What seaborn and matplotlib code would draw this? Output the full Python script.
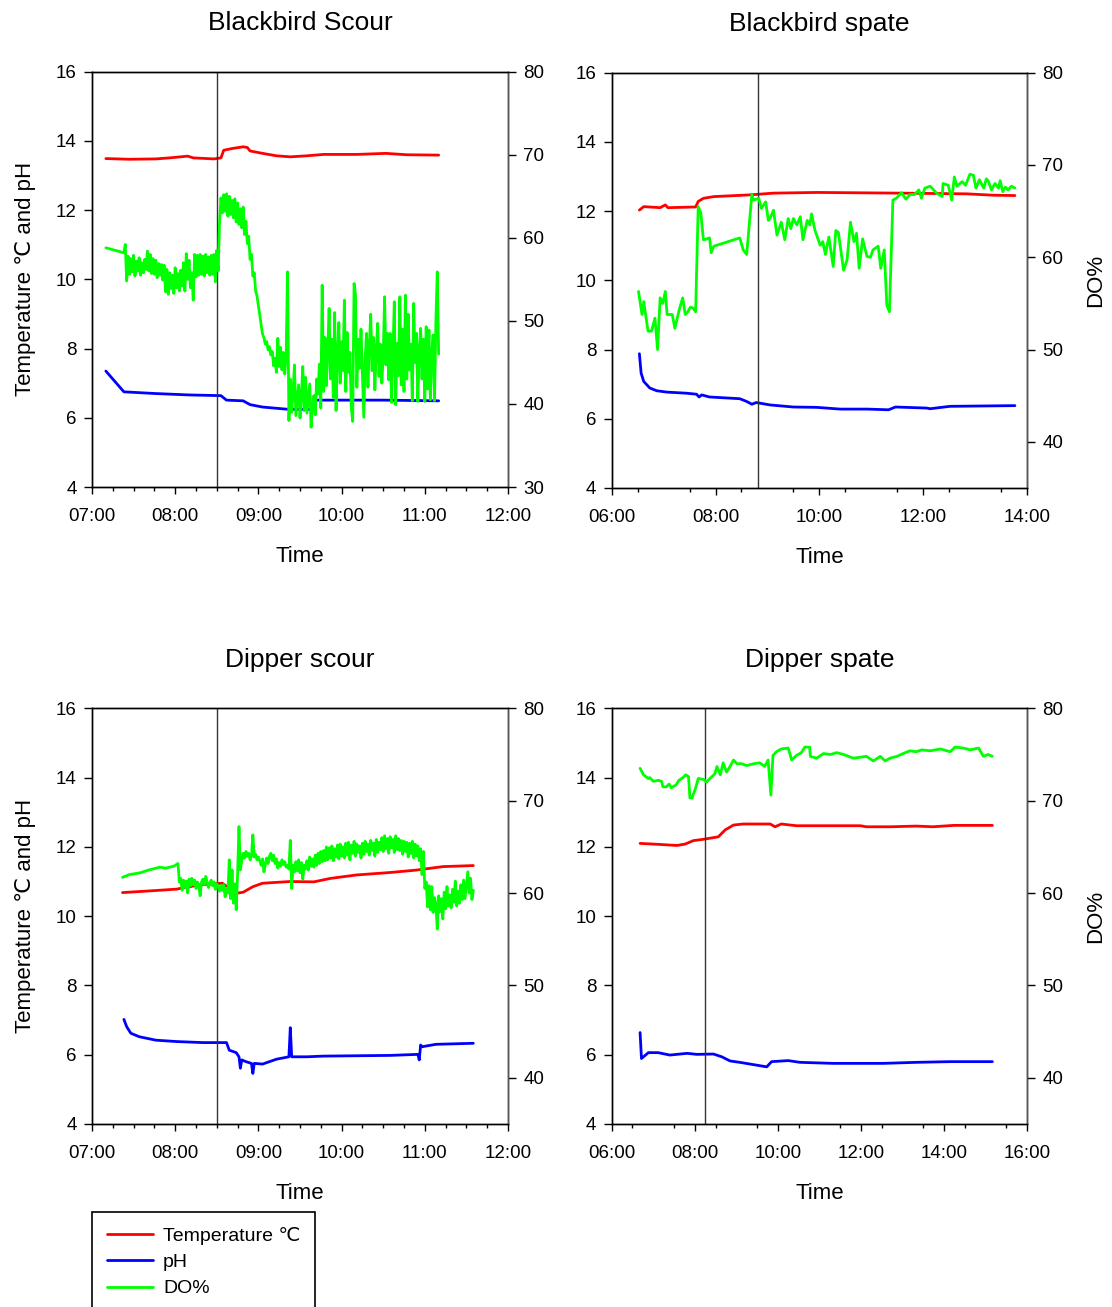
import numpy as np
import pandas as pd
import matplotlib
matplotlib.use("Agg")
import matplotlib.pyplot as plt
import matplotlib.dates as mdates
import seaborn as sns

# ---------------- data ----------------
panel_titles = ["Blackbird Scour", "Blackbird spate", "Dipper scour", "Dipper spate"]
event_times = ["08:30", "08:49", "08:30", "08:15"]
x_ranges = [("07:00", "12:00"), ("06:00", "14:00"), ("07:00", "12:00"), ("06:00", "16:00")]
major_hours = [1, 2, 1, 2]
minor_minutes = [[15, 30, 45], [30], [15, 30, 45], [30]]
do_ranges = [(30, 80), (35, 80), (35, 80), (35, 80)]
left_ticks = [4, 6, 8, 10, 12, 14, 16]
do_ticks_list = [[30, 40, 50, 60, 70, 80], [40, 50, 60, 70, 80],
                 [40, 50, 60, 70, 80], [40, 50, 60, 70, 80]]

# --- Blackbird Scour ---
bs_temp_t = ["07:10", "07:27", "07:46", "07:56", "08:09", "08:13", "08:28", "08:33", "08:35", "08:41",
             "08:49", "08:52", "08:54", "09:03", "09:13", "09:23", "09:35", "09:47", "10:11", "10:32",
             "10:47", "11:10"]
bs_temp_v = [13.49, 13.47, 13.48, 13.51, 13.56, 13.51, 13.48, 13.51, 13.73, 13.78,
             13.83, 13.81, 13.71, 13.64, 13.57, 13.54, 13.57, 13.61, 13.61, 13.64,
             13.60, 13.59]
bs_ph_t = ["07:10", "07:23", "07:46", "08:10", "08:33", "08:37", "08:49", "08:54", "09:03", "09:20",
           "09:39", "09:40", "10:30", "11:10"]
bs_ph_v = [7.35, 6.75, 6.70, 6.66, 6.64, 6.51, 6.49, 6.38, 6.31, 6.25,
           6.24, 6.51, 6.51, 6.49]
bs_do_first_t = ["07:10"]
bs_do_first_v = [58.8]
bs_do_start = "07:23"   # one reading per minute from here
bs_do_v = [58.2,
           59.2, 54.8, 57.8, 55.6, 57.5, 55.9, 57.9, 55.4, 57.2, 56.0,
           57.6, 55.5, 57.0, 55.8, 57.4, 56.2, 58.4, 56.0, 58.0, 55.7,
           57.5, 55.6, 57.3, 55.2, 56.9, 55.5, 56.8, 54.9, 56.7, 53.5,
           56.2, 53.2, 55.8, 53.9, 55.5, 53.3, 56.4, 54.0, 55.7, 53.6,
           56.1, 54.2, 57.0, 53.6, 58.1, 55.0, 57.3, 54.0, 55.8, 52.5,
           58.0, 55.3, 57.9, 55.5, 58.0, 55.6, 57.8, 55.4, 58.0, 55.8,
           57.7, 55.5, 57.9, 55.6, 58.0, 54.7,
           58.5, 56.0, 62.0, 64.8, 63.0, 65.2, 63.2, 65.3, 62.6, 65.0,
           62.8, 64.5, 62.4, 64.7, 61.9, 64.2, 61.6, 63.5, 61.2, 63.7,
           60.4, 62.0, 59.3, 60.2, 57.4, 58.0, 55.4, 55.8, 53.6, 53.0,
           51.8, 50.7,
           49.5, 48.4, 48.0, 47.2, 47.5, 46.5, 46.9, 45.9, 46.3, 44.6,
           45.5, 43.8, 47.9, 44.5, 46.8, 44.1, 46.2, 43.6, 45.8, 55.9,
           38.0, 43.0, 39.0, 41.5, 44.7, 38.6, 40.5, 42.3, 38.3, 41.0,
           44.5, 39.2, 43.2, 38.9, 40.6, 42.4, 37.2, 39.8, 41.0, 38.7,
           43.0, 41.2, 44.8, 39.5, 54.3, 41.5, 48.0, 42.2, 46.5, 51.5,
           43.0, 47.8, 40.8, 51.0, 39.2, 46.0, 49.8, 42.5, 47.5, 44.0,
           52.5, 41.5, 48.6, 43.8, 46.2, 39.5, 37.9, 54.5, 53.2, 42.0,
           47.8, 44.3, 49.0, 43.5, 38.4, 45.5, 48.5, 42.0, 47.0, 50.8,
           44.0, 48.0, 41.7, 46.5, 49.7, 43.3, 47.2, 42.5, 45.8, 52.9,
           44.7, 48.5, 42.9, 48.5, 40.2, 46.0, 52.3, 39.9, 47.3, 43.4,
           52.9, 42.3, 49.0, 41.5, 53.1, 43.0, 50.8, 44.1, 47.2, 40.4,
           52.1, 45.0, 48.5, 40.3, 46.5, 49.1, 43.0, 47.8, 40.3, 49.3,
           41.8, 48.9, 40.5, 46.0, 48.3, 40.4, 50.0, 55.9, 46.0]

# --- Blackbird spate ---
bsp_temp_t = ["06:32", "06:37", "06:56", "07:02", "07:05", "07:37", "07:40", "07:46", "07:58", "08:40",
              "09:07", "09:57", "11:33", "12:50", "13:21", "13:46"]
bsp_temp_v = [12.03, 12.13, 12.10, 12.18, 12.10, 12.12, 12.28, 12.37, 12.42, 12.47,
              12.52, 12.54, 12.52, 12.50, 12.46, 12.45]
bsp_ph_t = ["06:32", "06:34", "06:37", "06:44", "06:52", "07:04", "07:26", "07:38", "07:41", "07:44",
            "07:53", "08:28", "08:36", "08:42", "08:47", "09:03", "09:30", "09:57", "10:24", "10:55",
            "11:20", "11:28", "12:04", "12:08", "12:31", "13:46"]
bsp_ph_v = [7.88, 7.32, 7.08, 6.89, 6.81, 6.77, 6.74, 6.71, 6.63, 6.69,
            6.63, 6.58, 6.50, 6.42, 6.47, 6.40, 6.34, 6.33, 6.28, 6.28,
            6.26, 6.34, 6.31, 6.29, 6.36, 6.38]
bsp_do_t = ["06:31", "06:35", "06:37", "06:42", "06:46", "06:50", "06:53", "06:56", "06:59", "07:02",
            "07:04", "07:10", "07:13", "07:18", "07:22", "07:25", "07:28", "07:31", "07:34", "07:37",
            "07:40", "07:43", "07:46", "07:50", "07:53", "07:55", "07:58", "08:28", "08:32", "08:36",
            "08:42", "08:44", "08:50", "08:53", "08:58", "09:01", "09:03", "09:07", "09:11", "09:16",
            "09:20", "09:24", "09:27", "09:30", "09:34", "09:38", "09:41", "09:46", "09:49", "09:51",
            "09:55", "10:01", "10:04", "10:07", "10:11", "10:16", "10:19", "10:22", "10:28", "10:32",
            "10:36", "10:40", "10:43", "10:46", "10:50", "10:55", "10:59", "11:02", "11:08", "11:11",
            "11:15", "11:18", "11:21", "11:25", "11:29", "11:35", "11:40", "11:45", "11:50", "11:55",
            "11:58", "12:02", "12:08", "12:16", "12:22", "12:23", "12:29", "12:33", "12:36", "12:39",
            "12:45", "12:49", "12:54", "12:58", "13:01", "13:05", "13:10", "13:13", "13:15", "13:19",
            "13:23", "13:27", "13:29", "13:32", "13:35", "13:38", "13:42", "13:46"]
bsp_do_v = [56.3, 53.8, 55.2, 52.0, 52.0, 53.4, 50.0, 55.6, 55.0, 56.3,
            53.8, 53.8, 52.3, 54.3, 55.6, 53.8, 54.1, 54.6, 54.5, 54.1,
            65.5, 64.8, 61.9, 62.0, 62.1, 60.5, 61.2, 62.1, 60.8, 60.3,
            66.8, 66.2, 66.4, 65.3, 66.0, 64.0, 64.2, 65.1, 62.4, 63.8,
            61.9, 64.2, 63.1, 64.2, 63.5, 64.4, 61.9, 64.0, 63.5, 64.7,
            62.9, 61.3, 61.7, 60.3, 62.2, 59.0, 62.9, 62.7, 58.6, 59.7,
            63.8, 61.7, 62.6, 58.8, 62.0, 60.1, 60.0, 60.8, 61.2, 58.8,
            60.8, 54.8, 54.1, 66.2, 66.4, 67.0, 66.3, 66.8, 66.8, 67.3,
            66.4, 67.5, 67.7, 66.9, 66.6, 68.0, 67.8, 66.2, 68.7, 67.7,
            68.2, 67.8, 69.0, 68.9, 67.5, 68.4, 67.5, 68.5, 68.3, 67.3,
            68.0, 67.5, 68.3, 67.1, 67.6, 67.3, 67.7, 67.5]

# --- Dipper scour ---
ds_temp_t = ["07:22", "07:46", "08:01", "08:17", "08:34", "08:44", "08:49", "08:56", "09:03", "09:23",
             "09:40", "09:52", "10:11", "10:35", "10:54", "11:13", "11:35"]
ds_temp_v = [10.68, 10.74, 10.78, 10.90, 10.95, 10.66, 10.69, 10.85, 10.95, 11.00,
             10.99, 11.09, 11.19, 11.26, 11.33, 11.43, 11.46]
ds_ph_t = ["07:23", "07:25", "07:28", "07:34", "07:46", "08:01", "08:20", "08:37", "08:39", "08:44",
           "08:46", "08:47", "08:48", "08:51", "08:55", "08:56", "08:57", "09:03", "09:13", "09:22",
           "09:23", "09:24", "09:35", "09:47", "10:11", "10:35", "10:55", "10:56", "10:57", "10:58",
           "11:08", "11:35"]
ds_ph_v = [7.02, 6.81, 6.62, 6.52, 6.42, 6.38, 6.35, 6.35, 6.13, 6.06,
           5.94, 5.61, 5.85, 5.80, 5.75, 5.46, 5.75, 5.73, 5.87, 5.94,
           6.78, 5.94, 5.94, 5.96, 5.97, 5.98, 6.01, 5.85, 6.28, 6.23,
           6.30, 6.33]
ds_do_first_t = ["07:22", "07:27", "07:35", "07:41", "07:49", "07:53", "07:59", "08:02"]
ds_do_first_v = [61.7, 62.0, 62.2, 62.5, 62.8, 62.7, 62.9, 63.2]
ds_do_start = "08:03"   # one reading per minute from here
ds_do_v = [61.2, 61.6, 60.3, 61.4, 60.6, 61.3, 60.0, 61.5, 60.8, 61.6,
           60.9, 61.4, 60.5, 61.2, 60.7, 59.7, 61.2, 61.5, 60.9, 61.8,
           61.2, 60.6, 61.1, 61.4, 60.8, 61.2, 60.4, 61.0, 60.7, 60.2,
           60.8, 60.3, 60.9, 59.6, 60.5, 60.0, 63.6, 59.4, 62.5, 58.9,
           61.0, 58.2, 62.1, 67.2, 62.5, 63.5, 64.3, 63.8, 64.5, 64.0,
           64.3, 63.6, 64.0, 66.3, 63.9, 64.2, 63.6, 63.9, 63.5, 63.0,
           63.7, 62.3, 63.1, 63.8, 63.2, 64.0, 64.3, 63.5, 64.1, 63.2,
           63.7, 62.7, 63.3, 62.9, 63.6, 63.1, 63.4, 62.8, 63.0, 62.6,
           65.7, 60.5, 63.0, 62.3, 63.4, 62.4, 63.6, 62.2, 63.3, 61.5,
           63.0, 62.6, 63.5, 62.5, 63.9, 62.9, 63.7, 62.8, 64.1, 63.0,
           64.3, 63.2, 64.5, 63.4, 64.6, 63.5, 65.0, 63.6, 64.9, 63.8,
           65.1, 63.5, 64.8, 63.9, 65.2, 63.7, 65.3, 64.0, 65.0, 63.8,
           65.4, 64.1, 65.5, 63.6, 65.2, 64.3, 65.6, 64.0, 65.3, 64.4,
           65.1, 63.8, 65.4, 64.2, 65.6, 64.5, 65.3, 64.1, 65.7, 64.6,
           65.4, 64.0, 65.8, 64.4, 65.5, 64.7, 66.0, 64.5, 66.2, 64.8,
           65.9, 64.3, 66.1, 64.9, 65.8, 64.4, 66.2, 64.7, 65.9, 64.6,
           65.7, 64.2, 65.6, 64.5, 65.5, 63.9, 65.4, 64.3, 65.6, 63.8,
           65.3, 64.0, 65.1, 63.5, 64.8, 62.0, 64.5, 60.5, 61.2, 58.5,
           60.8, 58.2, 60.7, 57.9, 59.5, 58.8, 56.1, 59.7, 58.0, 59.4,
           57.2, 60.1, 58.3, 60.7, 58.6, 59.8, 58.4, 60.4, 59.0, 61.3,
           58.6, 60.2, 58.9, 60.9, 59.3, 61.4, 59.4, 60.8, 62.3, 60.0,
           61.6, 59.3, 60.3]

# --- Dipper spate ---
dsp_temp_t = ["06:41", "07:10", "07:34", "07:46", "07:58", "08:13", "08:34", "08:44", "08:56", "09:10",
              "09:49", "09:56", "10:05", "10:27", "11:59", "12:08", "12:42", "13:20", "13:44", "14:14",
              "15:10"]
dsp_temp_v = [12.10, 12.07, 12.04, 12.08, 12.18, 12.22, 12.29, 12.49, 12.63, 12.66,
              12.66, 12.58, 12.66, 12.61, 12.61, 12.58, 12.58, 12.60, 12.58, 12.62,
              12.62]
dsp_ph_t = ["06:41", "06:43", "06:53", "07:07", "07:24", "07:49", "08:03", "08:27", "08:39", "08:51",
            "09:05", "09:29", "09:44", "09:51", "10:15", "10:32", "11:20", "12:32", "13:20", "14:09",
            "15:10"]
dsp_ph_v = [6.64, 5.89, 6.06, 6.06, 5.99, 6.04, 6.01, 6.02, 5.94, 5.82,
            5.78, 5.70, 5.65, 5.80, 5.83, 5.78, 5.75, 5.75, 5.78, 5.80,
            5.80]
dsp_do_t = ["06:41", "06:46", "06:53", "06:55", "07:00", "07:07", "07:12", "07:14", "07:19", "07:23",
            "07:26", "07:33", "07:37", "07:43", "07:47", "07:51", "07:53", "07:56", "08:01", "08:05",
            "08:13", "08:17", "08:22", "08:29", "08:32", "08:37", "08:41", "08:46", "08:51", "08:56",
            "09:01", "09:08", "09:15", "09:25", "09:34", "09:41", "09:46", "09:50", "09:53", "09:58",
            "10:05", "10:15", "10:20", "10:27", "10:34", "10:39", "10:46", "10:47", "10:56", "11:06",
            "11:16", "11:25", "11:35", "11:49", "11:59", "12:08", "12:18", "12:28", "12:35", "12:42",
            "12:52", "13:01", "13:11", "13:20", "13:28", "13:40", "13:55", "14:09", "14:16", "14:28",
            "14:38", "14:50", "14:57", "15:04", "15:10"]
dsp_do_v = [73.5, 72.8, 72.4, 72.5, 72.1, 72.2, 72.1, 71.5, 71.5, 71.8,
            71.4, 71.7, 72.2, 72.5, 72.8, 72.6, 70.3, 70.3, 71.3, 72.4,
            72.3, 72.0, 72.4, 72.9, 73.7, 72.8, 74.1, 73.1, 73.7, 74.4,
            74.0, 74.0, 73.8, 74.0, 74.1, 73.7, 74.4, 70.6, 74.9, 75.3,
            75.6, 75.7, 74.4, 74.9, 75.2, 75.8, 75.8, 74.8, 74.6, 75.1,
            75.0, 75.2, 75.0, 74.6, 74.7, 74.8, 74.3, 74.8, 74.3, 74.6,
            74.8, 75.1, 75.4, 75.3, 75.5, 75.4, 75.6, 75.3, 75.8, 75.7,
            75.5, 75.7, 74.8, 75.0, 74.8]

series_names = ["Temperature \u2103", "pH", "DO%"]
series_colors = ["#ff0000", "#0000ff", "#00ff00"]

# ---------------- helpers ----------------
DAY = "2000-01-01 "


def tt(lst):
    return pd.to_datetime([DAY + s for s in lst])


def per_minute(start, vals):
    return pd.date_range(DAY + start, periods=len(vals), freq="min")


panels = [
    dict(temp=(tt(bs_temp_t), bs_temp_v), ph=(tt(bs_ph_t), bs_ph_v),
         do=(tt(bs_do_first_t).append(per_minute(bs_do_start, bs_do_v)), bs_do_first_v + bs_do_v)),
    dict(temp=(tt(bsp_temp_t), bsp_temp_v), ph=(tt(bsp_ph_t), bsp_ph_v),
         do=(tt(bsp_do_t), bsp_do_v)),
    dict(temp=(tt(ds_temp_t), ds_temp_v), ph=(tt(ds_ph_t), ds_ph_v),
         do=(tt(ds_do_first_t).append(per_minute(ds_do_start, ds_do_v)), ds_do_first_v + ds_do_v)),
    dict(temp=(tt(dsp_temp_t), dsp_temp_v), ph=(tt(dsp_ph_t), dsp_ph_v),
         do=(tt(dsp_do_t), dsp_do_v)),
]

# ---------------- style ----------------
sns.set_theme(style="white")
plt.rcParams["font.family"] = ["Liberation Sans", "DejaVu Sans"]
plt.rcParams["axes.edgecolor"] = "black"
plt.rcParams["axes.linewidth"] = 1.0
plt.rcParams["text.color"] = "black"
plt.rcParams["axes.labelcolor"] = "black"
plt.rcParams["xtick.color"] = "black"
plt.rcParams["ytick.color"] = "black"

W, H = 1112, 1307
fig = plt.figure(figsize=(W / 100, H / 100), dpi=100)

boxes = [(92, 71.7, 508, 487), (611.7, 72.7, 1027, 488),
         (92, 708.3, 508, 1124), (611.7, 708.3, 1027, 1124)]

LW = 2.0
TICK_FS = 13.5
LABEL_FS = 16
legend_handles = None

for i, (p, box) in enumerate(zip(panels, boxes)):
    x0, y0, x1, y1 = box
    ax = fig.add_axes([x0 / W, 1 - y1 / H, (x1 - x0) / W, (y1 - y0) / H])
    ax2 = ax.twinx()

    dft = pd.DataFrame({"time": p["temp"][0], "value": p["temp"][1]})
    dfp = pd.DataFrame({"time": p["ph"][0], "value": p["ph"][1]})
    dfd = pd.DataFrame({"time": p["do"][0], "value": p["do"][1]})

    sns.lineplot(data=dft, x="time", y="value", ax=ax, color=series_colors[0], lw=LW,
                 estimator=None, label=series_names[0], legend=False)
    sns.lineplot(data=dfp, x="time", y="value", ax=ax, color=series_colors[1], lw=LW,
                 estimator=None, label=series_names[1], legend=False)
    sns.lineplot(data=dfd, x="time", y="value", ax=ax2, color=series_colors[2], lw=LW,
                 estimator=None, label=series_names[2], legend=False)

    if i == 0:
        legend_handles = [ax.lines[0], ax.lines[1], ax2.lines[0]]

    ax.axvline(pd.Timestamp(DAY + event_times[i]), color="#333333", lw=1.0, zorder=5)

    xa, xb = x_ranges[i]
    ax.set_xlim(pd.Timestamp(DAY + xa), pd.Timestamp(DAY + xb))
    ax.set_ylim(4, 16)
    ax.set_yticks(left_ticks)
    ax2.set_ylim(*do_ranges[i])
    ax2.set_yticks(do_ticks_list[i])

    ax.xaxis.set_major_locator(mdates.HourLocator(interval=major_hours[i]))
    ax.xaxis.set_minor_locator(mdates.MinuteLocator(byminute=minor_minutes[i]))
    ax.xaxis.set_major_formatter(mdates.DateFormatter("%H:%M"))

    ax.tick_params(axis="x", which="major", direction="out", length=5, width=1,
                   labelsize=TICK_FS, pad=10, bottom=True)
    ax.tick_params(axis="x", which="minor", direction="out", length=3, width=1, bottom=True)
    ax.tick_params(axis="y", direction="out", length=6, width=1, labelsize=TICK_FS, pad=5, left=True)
    ax2.tick_params(axis="y", direction="out", length=6, width=1, labelsize=TICK_FS, pad=5, right=True)

    for s in ax.spines.values():
        s.set_color("black")
        s.set_linewidth(1.0)
    ax2.spines["right"].set_color("#555555")

    ax.set_xlabel("Time", fontsize=LABEL_FS, labelpad=15)
    if i % 2 == 0:
        ax.set_ylabel("Temperature \u2103 and pH", fontsize=LABEL_FS, labelpad=14)
        ax2.set_ylabel("")
    else:
        ax.set_ylabel("")
        ax2.set_ylabel("DO%", fontsize=LABEL_FS, labelpad=16)
    ax.set_title(panel_titles[i], fontsize=19, pad=30)
    ax.grid(False)
    ax2.grid(False)

leg = fig.legend(legend_handles, series_names, loc="upper left",
                 bbox_to_anchor=(92 / W, 1 - 1212 / H), bbox_transform=fig.transFigure,
                 borderaxespad=0, frameon=True, fancybox=False, fontsize=14,
                 handlelength=2.4, handletextpad=0.5, borderpad=0.75, labelspacing=0.45)
leg.get_frame().set_edgecolor("black")
leg.get_frame().set_linewidth(1.2)
leg.get_frame().set_alpha(1)

fig.savefig("out.png", dpi=100)
